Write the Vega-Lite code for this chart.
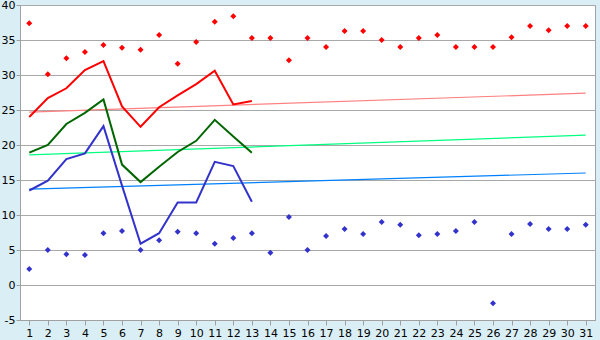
{
  "$schema": "https://vega.github.io/schema/vega-lite/v6.json",
  "width": 575,
  "height": 315,
  "autosize": {"type": "none"},
  "padding": {"left": 20, "top": 5, "right": 5, "bottom": 20},
  "background": "#d9eef5",
  "config": {
    "view": {"fill": "white", "stroke": "#a0a0a0", "strokeWidth": 1},
    "axis": {"labelFont": "DejaVu Sans", "labelFontSize": 11, "labelColor": "black", "domainColor": "#a0a0a0", "tickColor": "#a0a0a0", "title": null}
  },
  "datasets": {
    "lines": [
      {"day": 1, "s": "max", "v": 24.0}, {"day": 2, "s": "max", "v": 26.7}, {"day": 3, "s": "max", "v": 28.1}, {"day": 4, "s": "max", "v": 30.7}, {"day": 5, "s": "max", "v": 32.0}, {"day": 6, "s": "max", "v": 25.5}, {"day": 7, "s": "max", "v": 22.6}, {"day": 8, "s": "max", "v": 25.4}, {"day": 9, "s": "max", "v": 27.1}, {"day": 10, "s": "max", "v": 28.7}, {"day": 11, "s": "max", "v": 30.6}, {"day": 12, "s": "max", "v": 25.8}, {"day": 13, "s": "max", "v": 26.3},
      {"day": 1, "s": "avg", "v": 18.9}, {"day": 2, "s": "avg", "v": 20.0}, {"day": 3, "s": "avg", "v": 23.0}, {"day": 4, "s": "avg", "v": 24.6}, {"day": 5, "s": "avg", "v": 26.5}, {"day": 6, "s": "avg", "v": 17.2}, {"day": 7, "s": "avg", "v": 14.7}, {"day": 8, "s": "avg", "v": 16.9}, {"day": 9, "s": "avg", "v": 19.0}, {"day": 10, "s": "avg", "v": 20.6}, {"day": 11, "s": "avg", "v": 23.6}, {"day": 12, "s": "avg", "v": 21.2}, {"day": 13, "s": "avg", "v": 18.9},
      {"day": 1, "s": "min", "v": 13.5}, {"day": 2, "s": "min", "v": 14.9}, {"day": 3, "s": "min", "v": 18.0}, {"day": 4, "s": "min", "v": 18.8}, {"day": 5, "s": "min", "v": 22.7}, {"day": 6, "s": "min", "v": 14.2}, {"day": 7, "s": "min", "v": 5.9}, {"day": 8, "s": "min", "v": 7.4}, {"day": 9, "s": "min", "v": 11.8}, {"day": 10, "s": "min", "v": 11.8}, {"day": 11, "s": "min", "v": 17.6}, {"day": 12, "s": "min", "v": 17.0}, {"day": 13, "s": "min", "v": 11.9}
    ],
    "trends": [
      {"day": 1, "s": "tmax", "v": 24.7}, {"day": 31, "s": "tmax", "v": 27.4},
      {"day": 1, "s": "tavg", "v": 18.6}, {"day": 31, "s": "tavg", "v": 21.4},
      {"day": 1, "s": "tmin", "v": 13.7}, {"day": 31, "s": "tmin", "v": 16.0}
    ],
    "points": [
      {"day": 1, "s": "rmax", "v": 37.4}, {"day": 2, "s": "rmax", "v": 30.1}, {"day": 3, "s": "rmax", "v": 32.4}, {"day": 4, "s": "rmax", "v": 33.3}, {"day": 5, "s": "rmax", "v": 34.3}, {"day": 6, "s": "rmax", "v": 33.9}, {"day": 7, "s": "rmax", "v": 33.6}, {"day": 8, "s": "rmax", "v": 35.7}, {"day": 9, "s": "rmax", "v": 31.6}, {"day": 10, "s": "rmax", "v": 34.7},
      {"day": 11, "s": "rmax", "v": 37.6}, {"day": 12, "s": "rmax", "v": 38.4}, {"day": 13, "s": "rmax", "v": 35.3}, {"day": 14, "s": "rmax", "v": 35.3}, {"day": 15, "s": "rmax", "v": 32.1}, {"day": 16, "s": "rmax", "v": 35.3}, {"day": 17, "s": "rmax", "v": 34.0}, {"day": 18, "s": "rmax", "v": 36.3}, {"day": 19, "s": "rmax", "v": 36.3}, {"day": 20, "s": "rmax", "v": 35.0},
      {"day": 21, "s": "rmax", "v": 34.0}, {"day": 22, "s": "rmax", "v": 35.3}, {"day": 23, "s": "rmax", "v": 35.7}, {"day": 24, "s": "rmax", "v": 34.0}, {"day": 25, "s": "rmax", "v": 34.0}, {"day": 26, "s": "rmax", "v": 34.0}, {"day": 27, "s": "rmax", "v": 35.4}, {"day": 28, "s": "rmax", "v": 37.0}, {"day": 29, "s": "rmax", "v": 36.4}, {"day": 30, "s": "rmax", "v": 37.0}, {"day": 31, "s": "rmax", "v": 37.0},
      {"day": 1, "s": "rmin", "v": 2.3}, {"day": 2, "s": "rmin", "v": 5.0}, {"day": 3, "s": "rmin", "v": 4.4}, {"day": 4, "s": "rmin", "v": 4.3}, {"day": 5, "s": "rmin", "v": 7.4}, {"day": 6, "s": "rmin", "v": 7.7}, {"day": 7, "s": "rmin", "v": 5.0}, {"day": 8, "s": "rmin", "v": 6.4}, {"day": 9, "s": "rmin", "v": 7.6}, {"day": 10, "s": "rmin", "v": 7.4},
      {"day": 11, "s": "rmin", "v": 5.9}, {"day": 12, "s": "rmin", "v": 6.7}, {"day": 13, "s": "rmin", "v": 7.4}, {"day": 14, "s": "rmin", "v": 4.6}, {"day": 15, "s": "rmin", "v": 9.7}, {"day": 16, "s": "rmin", "v": 5.0}, {"day": 17, "s": "rmin", "v": 7.0}, {"day": 18, "s": "rmin", "v": 8.0}, {"day": 19, "s": "rmin", "v": 7.3}, {"day": 20, "s": "rmin", "v": 9.0},
      {"day": 21, "s": "rmin", "v": 8.6}, {"day": 22, "s": "rmin", "v": 7.1}, {"day": 23, "s": "rmin", "v": 7.3}, {"day": 24, "s": "rmin", "v": 7.7}, {"day": 25, "s": "rmin", "v": 9.0}, {"day": 26, "s": "rmin", "v": -2.6}, {"day": 27, "s": "rmin", "v": 7.3}, {"day": 28, "s": "rmin", "v": 8.7}, {"day": 29, "s": "rmin", "v": 8.0}, {"day": 30, "s": "rmin", "v": 8.0}, {"day": 31, "s": "rmin", "v": 8.6}
    ]
  },
  "encoding": {
    "x": {
      "field": "day", "type": "quantitative",
      "scale": {"domain": [0.5, 31.5], "nice": false, "zero": false},
      "axis": {"values": [1,2,3,4,5,6,7,8,9,10,11,12,13,14,15,16,17,18,19,20,21,22,23,24,25,26,27,28,29,30,31], "format": "d", "grid": false, "tickSize": 5, "labelPadding": 2, "labelFlush": false, "labelOverlap": false}
    },
    "y": {
      "field": "v", "type": "quantitative",
      "scale": {"domain": [-5, 40], "nice": false, "zero": false},
      "axis": {"values": [-5,0,5,10,15,20,25,30,35,40], "grid": true, "gridColor": "#a8a8a8", "gridOpacity": 1, "tickSize": 4, "labelPadding": 1, "labelFlush": false, "labelExpr": "datum.value < 0 ? '-' + abs(datum.value) : datum.label"}
    },
    "color": {
      "field": "s", "type": "nominal", "legend": null,
      "scale": {
        "domain": ["max", "avg", "min", "tmax", "tavg", "tmin", "rmax", "rmin"],
        "range": ["#ff0000", "#006600", "#3333cc", "#ff8080", "#00ff80", "#0080ff", "#ff0000", "#3333cc"]
      }
    }
  },
  "layer": [
    {"data": {"name": "trends"}, "mark": {"type": "line", "strokeWidth": 1.2}},
    {"data": {"name": "lines"}, "mark": {"type": "line", "strokeWidth": 2}},
    {"data": {"name": "points"}, "mark": {"type": "point", "shape": "diamond", "filled": true, "size": 36, "opacity": 1}}
  ]
}
